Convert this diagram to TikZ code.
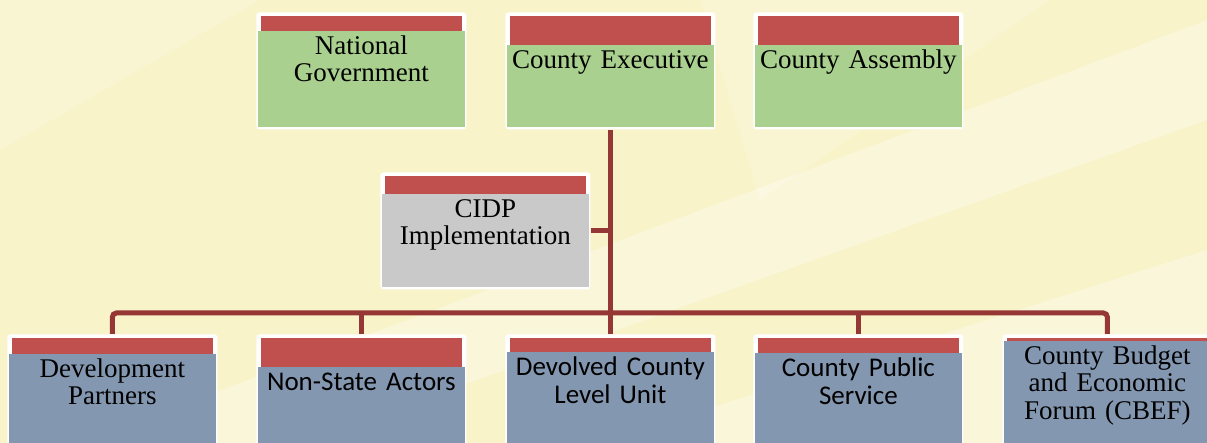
\documentclass[tikz,border=0pt]{standalone}
\usepackage{fontspec}
\setmainfont{Liberation Serif}
\newfontfamily\calibri{Carlito}
\usepackage{tikz}
\usetikzlibrary{positioning,calc}

\definecolor{barred}{HTML}{C0504D}
\definecolor{topgreen}{HTML}{A9D08E}
\definecolor{lowblue}{HTML}{8497B0}
\definecolor{midgray}{HTML}{C9C9C9}
\definecolor{linkred}{HTML}{953735}
\definecolor{bgcream}{HTML}{F8F3C9}

\tikzset{frame/.style={fill=white,rounded corners=1.5pt,inner sep=0pt,
                       minimum width=105pt,minimum height=58.5pt},
         link/.style={draw=linkred,line width=2.5pt},
         label text/.style={anchor=north,inner sep=0pt,text width=102pt,align=center,
                            execute at begin node={\rule{0pt}{11.5pt}}}}

% name, left, top, bar depth, body colour, font, text
\newcommand{\orgbox}[7]{%
  \node[frame,anchor=north west] (#1) at (#2,#3) {};
  \fill[barred] ($(#1.north west)+(5,4)$) rectangle ($(#1.north east)+(-5,#4)$);
  \fill[#5] ($(#1.north west)+(2,#4)$) rectangle ($(#1.south east)+(-2,-3)$);
  \node[label text,font=#6] (#1-t) at ($(#1.north)+(0,#4)$) {#7};
}

\newcommand{\serifsize}{\fontsize{13.5pt}{13.75pt}\selectfont}
\newcommand{\sanssize}{\calibri\fontsize{13.5pt}{14pt}\selectfont}

\begin{document}
\begin{tikzpicture}[x=0.5pt,y=-0.5pt]
  \useasboundingbox (0,0) rectangle (1207,443);
  \clip (0,0) rectangle (1207,443);

  % background
  \fill[bgcream] (0,0) rectangle (1207,443);
  \fill[white,opacity=0.2] (0,0) -- (260,0) -- (0,150) -- cycle;
  \fill[white,opacity=0.3] (80,443) -- (300,443) -- (1207,120) -- (1207,20) -- cycle;
  \fill[white,opacity=0.3] (600,443) -- (1207,443) -- (1207,250) -- cycle;
  \fill[white,opacity=0.2] (700,0) -- (1050,0) -- (760,200) -- cycle;

  % boxes
  \orgbox{natgov}{256}{12}{19}{topgreen}{\serifsize}{National\\Government}
  \orgbox{cexec}{505}{12}{33}{topgreen}{\serifsize}{County Executive}
  \orgbox{cassem}{753}{12}{33}{topgreen}{\serifsize}{County Assembly}

  \orgbox{cidp}{380}{172}{22}{midgray}{\serifsize}{CIDP\\Implementation}

  \orgbox{devpart}{7}{334}{20}{lowblue}{\serifsize}{Development\\Partners}
  \orgbox{nsa}{256}{334}{33}{lowblue}{\sanssize}{Non-State Actors}
  \orgbox{dclu}{505}{334}{18}{lowblue}{\sanssize}{Devolved County\\Level Unit}
  \orgbox{cps}{753}{334}{19}{lowblue}{\sanssize}{County Public\\Service}
  \orgbox{cbef}{1002}{334}{7}{lowblue}{\serifsize}{County Budget\\and Economic\\Forum (CBEF)}

  % connectors
  \coordinate (bus) at (0,313);
  \draw[link] (cexec.south) -- (dclu.north);
  \draw[link] (cidp.east) -- (cidp.east -| cexec.south);
  \draw[link,rounded corners=2pt] (devpart.north) |- (bus -| cexec.south) -| (cbef.north);
  \draw[link] (nsa.north) -- (nsa.north |- bus);
  \draw[link] (cps.north) -- (cps.north |- bus);
\end{tikzpicture}
\end{document}
